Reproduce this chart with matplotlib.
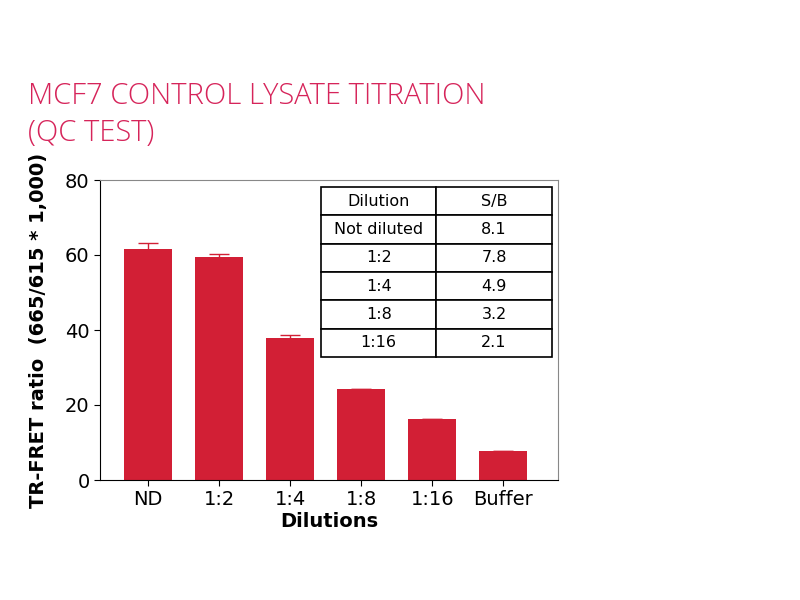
import matplotlib
matplotlib.use("Agg")
import matplotlib.pyplot as plt

# data
dilutions = ["ND", "1:2", "1:4", "1:8", "1:16", "Buffer"]
ratio = [61.6, 59.4, 37.8, 24.2, 16.2, 7.7]
ratio_err = [1.5, 1.0, 0.8, 0, 0, 0]

table_dilution = ["Not diluted", "1:2", "1:4", "1:8", "1:16"]
table_sb = ["8.1", "7.8", "4.9", "3.2", "2.1"]

red = "#d21f35"

fig = plt.figure(figsize=(8, 6), dpi=100)
fig.text(0.035, 0.865, "MCF7 CONTROL LYSATE TITRATION\n(QC TEST)", color="#d6245a",
         fontsize=21, family="Open Sans", fontweight="light", va="top", linespacing=1.35)

ax = fig.add_axes([0.125, 0.2, 0.5725, 0.5])
x = range(len(dilutions))
ax.bar(x, ratio, width=0.68, color=red, yerr=ratio_err,
       error_kw=dict(ecolor=red, capsize=7, elinewidth=1, capthick=1))
ax.set_xlim(-0.68, 5.77)
ax.set_ylim(0, 80)
ax.set_yticks([0, 20, 40, 60, 80])
ax.set_xticks(list(x))
ax.set_xticklabels(dilutions)
ax.tick_params(labelsize=14, length=4)
for s in ["top", "right"]:
    ax.spines[s].set_color("#888888")
    ax.spines[s].set_linewidth(0.8)
ax.set_xlabel("Dilutions", fontsize=14, fontweight="bold", labelpad=2)
ax.set_ylabel("TR-FRET ratio  (665/615 * 1,000)", fontsize=14, fontweight="bold", labelpad=12)

rows = [["Dilution", "S/B"]] + [[d, s] for d, s in zip(table_dilution, table_sb)]
tb = ax.table(cellText=rows, cellLoc="center", bbox=[0.4825, 0.41, 0.504, 0.567])
tb.auto_set_font_size(False)
tb.set_fontsize(11.5)
for cell in tb.get_celld().values():
    cell.set_linewidth(1.2)
    cell.set_facecolor("white")

fig.savefig("out.png", dpi=100)
